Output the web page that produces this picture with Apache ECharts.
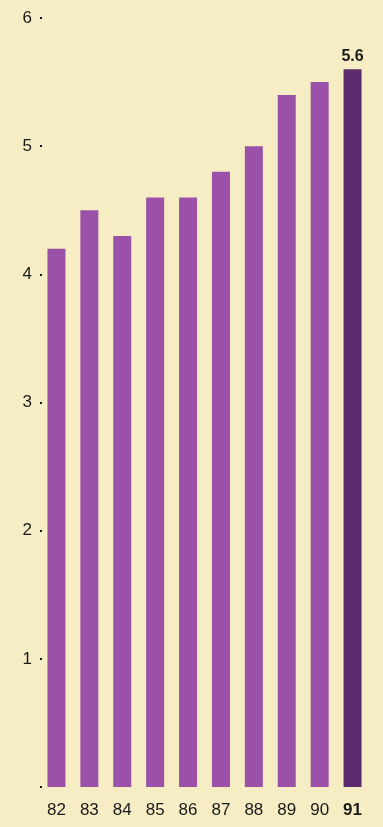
<!DOCTYPE html>
<html>
<head>
<meta charset="utf-8">
<script src="https://cdn.jsdelivr.net/npm/echarts@6/dist/echarts.min.js"></script>
<style>
  html, body { margin: 0; padding: 0; background: #f6edc5; }
  #chart { width: 383px; height: 827px; }
</style>
</head>
<body>
<div id="chart"></div>
<script>
// Years (two-digit) and yearly values
const years = ['82', '83', '84', '85', '86', '87', '88', '89', '90', '91'];
const values = [4.2, 4.5, 4.3, 4.6, 4.6, 4.8, 5.0, 5.4, 5.5, 5.6];
const yTicks = [0, 1, 2, 3, 4, 5, 6];
const highlightYear = '91';

const barColor = '#9c51a8';
const highlightColor = '#5a2c6c';
const font = 'Liberation Sans, Arial, sans-serif';

const chart = echarts.init(document.getElementById('chart'), null, { renderer: 'canvas' });

const seriesData = values.map((v, i) => {
  const isHi = years[i] === highlightYear;
  return {
    value: v,
    itemStyle: { color: isHi ? highlightColor : barColor },
    label: isHi ? {
      show: true,
      position: 'top',
      distance: 5,
      formatter: '{c}',
      color: '#1a1a1a',
      fontWeight: 'bold',
      fontSize: 16,
      fontFamily: font
    } : { show: false }
  };
});

chart.setOption({
  backgroundColor: '#f6edc5',
  animation: false,
  grid: { left: 40, right: 14, top: 18, bottom: 40 },
  xAxis: {
    type: 'category',
    data: years,
    axisLine: { show: false },
    axisTick: { show: false },
    axisLabel: {
      interval: 0,
      margin: 15,
      fontSize: 17,
      color: '#1a1a1a',
      fontFamily: font,
      formatter: (v) => v === highlightYear ? '{b|' + v + '}' : v,
      rich: {
        b: { fontWeight: 'bold', fontSize: 17, color: '#1a1a1a', fontFamily: font }
      }
    }
  },
  yAxis: {
    type: 'value',
    min: yTicks[0],
    max: yTicks[yTicks.length - 1],
    interval: 1,
    axisLine: { show: false },
    splitLine: { show: false },
    axisTick: { show: true, inside: true, length: 2, lineStyle: { color: '#111', width: 2 } },
    axisLabel: {
      margin: 8,
      fontSize: 17,
      color: '#1a1a1a',
      fontFamily: font,
      formatter: (v) => v === 0 ? '' : String(v)
    }
  },
  series: [{
    type: 'bar',
    data: seriesData,
    barWidth: 18
  }]
});
</script>
</body>
</html>
